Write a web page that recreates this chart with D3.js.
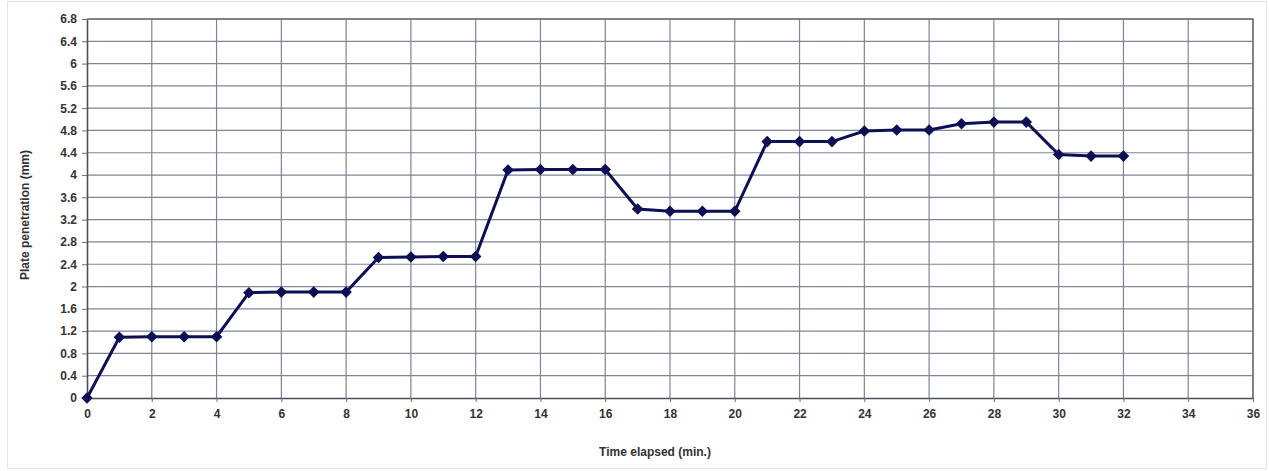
<html>
  <head>
    <script src="https://cdn.jsdelivr.net/npm/d3@7"></script>
  </head>
  <body>
    <style>
      body{
        margin: 0;
        padding: 0;
        background-color: white;
      }
      text{
        font-family: "Liberation Sans", Arial, sans-serif;
        font-weight: bold;
        fill: #333;
      }
    </style>
    <div id="chart"></div>
    <script>
      // readings taken once a minute
      var minutes = d3.range(0, 33);
      var penetration = [
        0, 1.09, 1.1, 1.1, 1.1, 1.89, 1.9, 1.9, 1.9,
        2.52, 2.53, 2.54, 2.54, 4.09, 4.1, 4.1, 4.1,
        3.39, 3.35, 3.35, 3.35, 4.6, 4.6, 4.6,
        4.79, 4.81, 4.81, 4.92, 4.95, 4.95,
        4.37, 4.34, 4.34
      ];
      var xTicks = d3.range(0, 37, 2);
      var yTicks = d3.range(0, 18).map(function(i){ return +(i * 0.4).toFixed(1); });

      var width = 1269, height = 471;
      var margin = {top: 19, right: 16, bottom: 73, left: 87};

      var svg = d3.select("#chart").append("svg")
        .attr("width", width)
        .attr("height", height);

      // faint outer frame of the scanned sheet
      svg.append("rect")
        .attr("x", 7.5).attr("y", 1.5)
        .attr("width", width - 10).attr("height", height - 4)
        .style("fill", "none")
        .style("stroke", "#e4e4e4");

      var x = d3.scaleLinear().domain([0, 36]).range([margin.left, width - margin.right]);
      var y = d3.scaleLinear().domain([0, 6.8]).range([height - margin.bottom, margin.top]);

      var g = svg.append("g");

      // grid
      g.selectAll("line.hgrid").data(yTicks.slice(1)).enter().append("line")
        .attr("class", "hgrid")
        .attr("x1", x(0)).attr("x2", x(36))
        .attr("y1", function(d){ return y(d); }).attr("y2", function(d){ return y(d); })
        .style("stroke", "#7f8594").style("stroke-width", 1.2);
      g.selectAll("line.vgrid").data(xTicks.slice(1)).enter().append("line")
        .attr("class", "vgrid")
        .attr("x1", function(d){ return x(d); }).attr("x2", function(d){ return x(d); })
        .attr("y1", y(0)).attr("y2", y(6.8))
        .style("stroke", "#7f8594").style("stroke-width", 1.2);

      // axes
      var xAxis = d3.axisBottom(x).tickValues(xTicks).tickSize(4).tickSizeOuter(0);
      var yAxis = d3.axisLeft(y).tickValues(yTicks).tickSize(5).tickSizeOuter(0)
        .tickFormat(function(d){ return d3.format("")(d); });

      var gx = svg.append("g").attr("transform", "translate(0," + y(0) + ")").call(xAxis);
      var gy = svg.append("g").attr("transform", "translate(" + x(0) + ",0)").call(yAxis);
      [gx, gy].forEach(function(ax){
        ax.select(".domain").style("stroke", "#4a5060").style("stroke-width", 1.6);
        ax.selectAll(".tick line").style("stroke", "#6a6f7a");
        ax.selectAll(".tick text")
          .style("font-size", "12px")
          .style("font-family", "'Liberation Sans', Arial, sans-serif")
          .style("font-weight", "bold")
          .style("fill", "#333");
      });
      gx.selectAll(".tick text").attr("dy", "1.1em");
      gy.selectAll(".tick text").attr("dx", "-2");

      // top and right edges of plot area
      svg.append("path")
        .attr("d", "M" + x(0) + "," + y(6.8) + "H" + x(36) + "V" + y(0))
        .style("fill", "none").style("stroke", "#6a6f7a").style("stroke-width", 1.4);

      // data
      var line = d3.line()
        .x(function(d, i){ return x(minutes[i]); })
        .y(function(d){ return y(d); });

      svg.append("path")
        .datum(penetration)
        .attr("d", line)
        .style("fill", "none")
        .style("stroke", "#0e0e55")
        .style("stroke-width", 3);

      svg.selectAll("path.pt").data(penetration).enter().append("path")
        .attr("class", "pt")
        .attr("d", d3.symbol().type(d3.symbolDiamond2).size(85))
        .attr("transform", function(d, i){ return "translate(" + x(minutes[i]) + "," + y(d) + ")"; })
        .style("fill", "#0e0e55");

      // titles
      svg.append("text")
        .attr("x", 655)
        .attr("y", 456)
        .style("text-anchor", "middle")
        .style("font-size", "12px")
        .text("Time elapsed (min.)");

      svg.append("text")
        .attr("transform", "translate(29,215) rotate(-90)")
        .style("text-anchor", "middle")
        .style("font-size", "12px")
        .text("Plate penetration (mm)");
    </script>
  </body>
</html>
